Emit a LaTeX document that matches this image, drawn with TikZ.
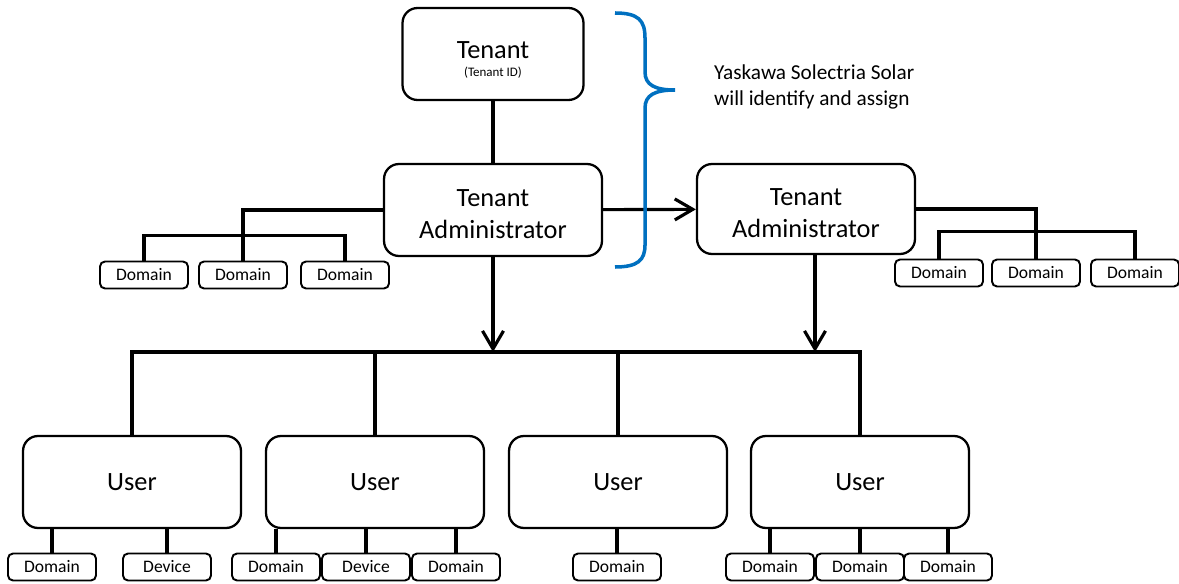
\documentclass[tikz,border=0pt]{standalone}
\usepackage{fontspec}
\setmainfont{Carlito}
\usetikzlibrary{arrows.meta}

\definecolor{braceblue}{RGB}{0,112,192}

\begin{document}
\begin{tikzpicture}[x=0.02cm, y=-0.02cm,
   bigbox/.style={draw, rounded corners=0.3cm, line width=1.3pt, minimum width=4.36cm, minimum height=1.84cm, align=center, font=\fontsize{15}{18.2}\selectfont},
   smallbox/.style={draw, rounded corners=0.1cm, line width=1.1pt, minimum width=1.76cm, minimum height=0.54cm, inner sep=0pt, font=\fontsize{10}{12}\selectfont},
   link/.style={line width=1.8pt},
   arr/.style={link, -{Straight Barb[length=0.36cm, width=0.42cm]}}]

   \useasboundingbox (0,0) rectangle (1179,584);

   % top of the tree
   \node (tenant) [bigbox, minimum width=3.62cm] at (493,54) {\rule{0pt}{16.5pt}Tenant\\[-8pt]{\fontsize{7.4}{9}\selectfont (Tenant ID)}} ;
   \node (ta1) [bigbox] at (493,210) {\rule{0pt}{14.6pt}Tenant\\Administrator} ;
   \node (ta2) [bigbox, minimum height=1.8cm] at (806,209) {\rule{0pt}{14.6pt}Tenant\\Administrator} ;

   \node (note) [anchor=west, align=left, font=\fontsize{12.1}{15.3}\selectfont] at (708,87) {Yaskawa Solectria Solar\\will identify and assign} ;

   % domains of the administrators
   \node (ld1) [smallbox] at (144,275) {Domain} ;
   \node (ld2) [smallbox] at (243,275) {Domain} ;
   \node (ld3) [smallbox] at (345,275) {Domain} ;
   \node (rd1) [smallbox] at (939,273) {Domain} ;
   \node (rd2) [smallbox] at (1036,273) {Domain} ;
   \node (rd3) [smallbox] at (1135,273) {Domain} ;

   % users
   \node (u1) [bigbox] at (132,482) {User} ;
   \node (u2) [bigbox] at (375,482) {User} ;
   \node (u3) [bigbox] at (618,482) {User} ;
   \node (u4) [bigbox] at (860,482) {User} ;

   \node (b11) [smallbox] at (52,567) {Domain} ;
   \node (b12) [smallbox] at (167,567) {Device} ;
   \node (b21) [smallbox] at (276,567) {Domain} ;
   \node (b22) [smallbox] at (366,567) {Device} ;
   \node (b23) [smallbox] at (456,567) {Domain} ;
   \node (b31) [smallbox] at (617,567) {Domain} ;
   \node (b41) [smallbox] at (770,567) {Domain} ;
   \node (b42) [smallbox] at (860,567) {Domain} ;
   \node (b43) [smallbox] at (948,567) {Domain} ;

   \coordinate (bus1) at (493,352) ;
   \coordinate (bus2) at (815,352) ;

   % connectors
   \draw[link] (tenant)--(ta1);
   \draw[arr] (ta1)--(ta2);
   \draw[arr] (ta1.south)--(bus1);
   \draw[arr] (ta2.south -| bus2)--(bus2);

   \draw[link] (ta1.west) -| (ld2.north);
   \draw[link] (ld1.north) -- ++(0,-25) -| (ld3.north);
   \draw[link] (ta2.east) -| (rd2.north);
   \draw[link] (rd1.north) -- ++(0,-27) -| (rd3.north);

   \draw[link, line width=2.2pt] (u1.north) -- (u1.north |- bus1) -- (u4.north |- bus1) -- (u4.north);
   \foreach \u in {u2,u3}
      \draw[link] (\u.north) -- (\u.north |- bus1);

   \foreach \b/\u in {b11/u1,b12/u1,b21/u2,b22/u2,b23/u2,b31/u3,b41/u4,b42/u4,b43/u4}
      \draw[link] (\b.north) -- (\b.north |- \u.south);

   % brace
   \draw[braceblue, line width=2pt] (615,13) .. controls (638,13) and (645,20) .. (645,38) -- (645,72) .. controls (645,85) and (655,90) .. (675,90) .. controls (655,90) and (645,95) .. (645,108) -- (645,245) .. controls (645,260) and (638,267) .. (615,267);
\end{tikzpicture}
\end{document}
